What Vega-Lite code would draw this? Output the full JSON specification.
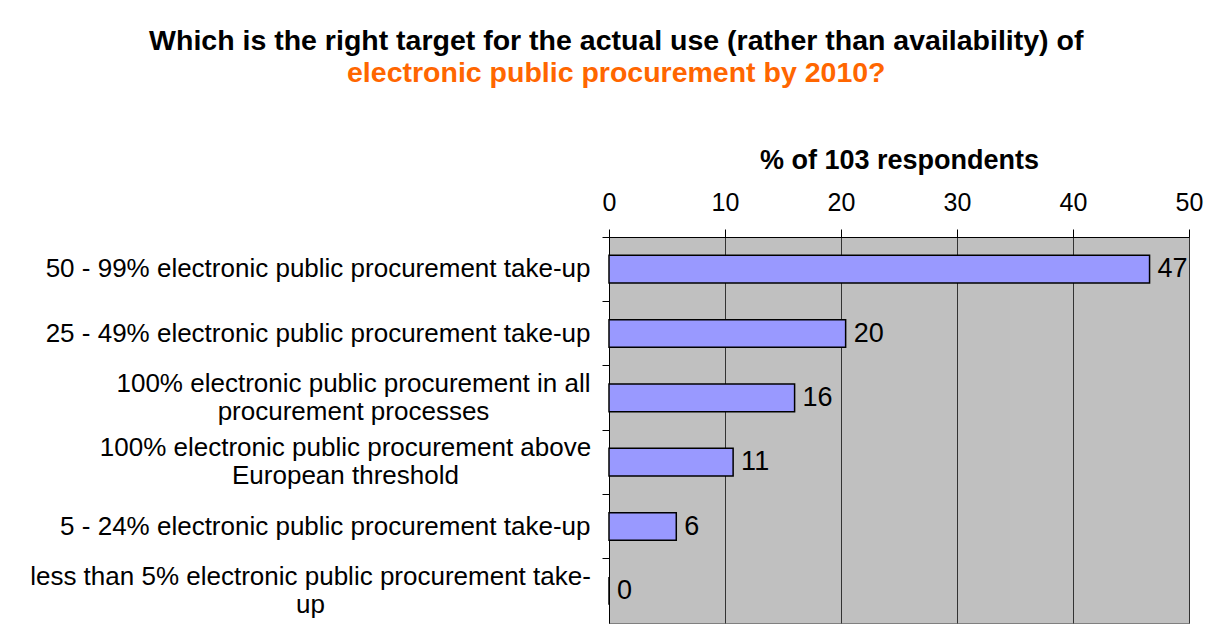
{
  "$schema": "https://vega.github.io/schema/vega-lite/v6.json",
  "width": 580,
  "height": 386,
  "autosize": "none",
  "padding": {"left": 609, "top": 237, "right": 31, "bottom": 8},
  "background": "white",
  "title": {
    "text": "Which is the right target for the actual use (rather than availability) of",
    "subtitle": "electronic public procurement by 2010?",
    "anchor": "middle",
    "frame": "bounds",
    "font": "Liberation Sans",
    "fontSize": 28.5,
    "fontWeight": "bold",
    "color": "black",
    "subtitleFont": "Liberation Sans",
    "subtitleFontSize": 28.5,
    "subtitleFontWeight": "bold",
    "subtitleColor": "#FF6600",
    "subtitlePadding": 3,
    "offset": 59
  },
  "data": {
    "values": [
      {"category": "50 - 99% electronic public procurement take-up", "percent": 46.6},
      {"category": "25 - 49% electronic public procurement take-up", "percent": 20.4},
      {"category": "100% electronic public procurement in all\nprocurement processes", "percent": 16.0},
      {"category": "100% electronic public procurement above\nEuropean threshold", "percent": 10.7},
      {"category": "5 - 24% electronic public procurement take-up", "percent": 5.8},
      {"category": "less than 5% electronic public procurement take-\nup", "percent": 0}
    ]
  },
  "encoding": {
    "y": {
      "field": "category",
      "type": "nominal",
      "sort": null,
      "scale": {"paddingInner": 0, "paddingOuter": 0},
      "axis": {
        "title": null,
        "orient": "left",
        "domain": true,
        "domainColor": "black",
        "domainWidth": 1,
        "ticks": true,
        "tickSize": 7,
        "tickColor": "black",
        "bandPosition": 0,
        "grid": false,
        "labelFont": "Liberation Sans",
        "labelFontSize": 26,
        "labelColor": "black",
        "labelLimit": 0,
        "labelLineHeight": 28,
        "labelBaseline": "middle",
        "labelExpr": "split(datum.value, '\\n')",
        "labelAlign": {"condition": {"test": "indexof(datum.value, '\\n') >= 0", "value": "center"}, "value": "right"},
        "labelOffset": {"condition": {"test": "indexof(datum.value, '\\n') >= 0", "value": -14}, "value": 0},
        "labelPadding": {
          "condition": [
            {"test": "indexof(datum.value, 'in all') >= 0", "value": 249},
            {"test": "indexof(datum.value, 'above') >= 0", "value": 257},
            {"test": "indexof(datum.value, 'less than') >= 0", "value": 292}
          ],
          "value": 12
        }
      }
    },
    "x": {
      "field": "percent",
      "type": "quantitative",
      "scale": {"domain": [0, 50], "nice": false},
      "axis": {
        "orient": "top",
        "title": "% of 103 respondents",
        "titleFont": "Liberation Sans",
        "titleFontSize": 27,
        "titleFontWeight": "bold",
        "titleColor": "black",
        "titlePadding": 16,
        "values": [0, 10, 20, 30, 40, 50],
        "labelFont": "Liberation Sans",
        "labelFontSize": 25,
        "labelColor": "black",
        "labelPadding": 14,
        "labelFlush": false,
        "labelOverlap": false,
        "tickSize": 8,
        "tickColor": "black",
        "domain": true,
        "domainColor": "black",
        "grid": true,
        "gridColor": "#333333",
        "gridWidth": 1
      }
    }
  },
  "layer": [
    {
      "mark": {"type": "bar", "height": {"band": 0.43}, "fill": "#9999FF", "stroke": "black", "strokeWidth": 1.5}
    },
    {
      "mark": {"type": "text", "align": "left", "baseline": "middle", "dx": 8, "fontSize": 27, "font": "Liberation Sans", "color": "black"},
      "encoding": {"text": {"field": "percent", "type": "quantitative", "format": ".0f"}}
    }
  ],
  "config": {"view": {"fill": "#C0C0C0", "stroke": "#808080"}}
}
